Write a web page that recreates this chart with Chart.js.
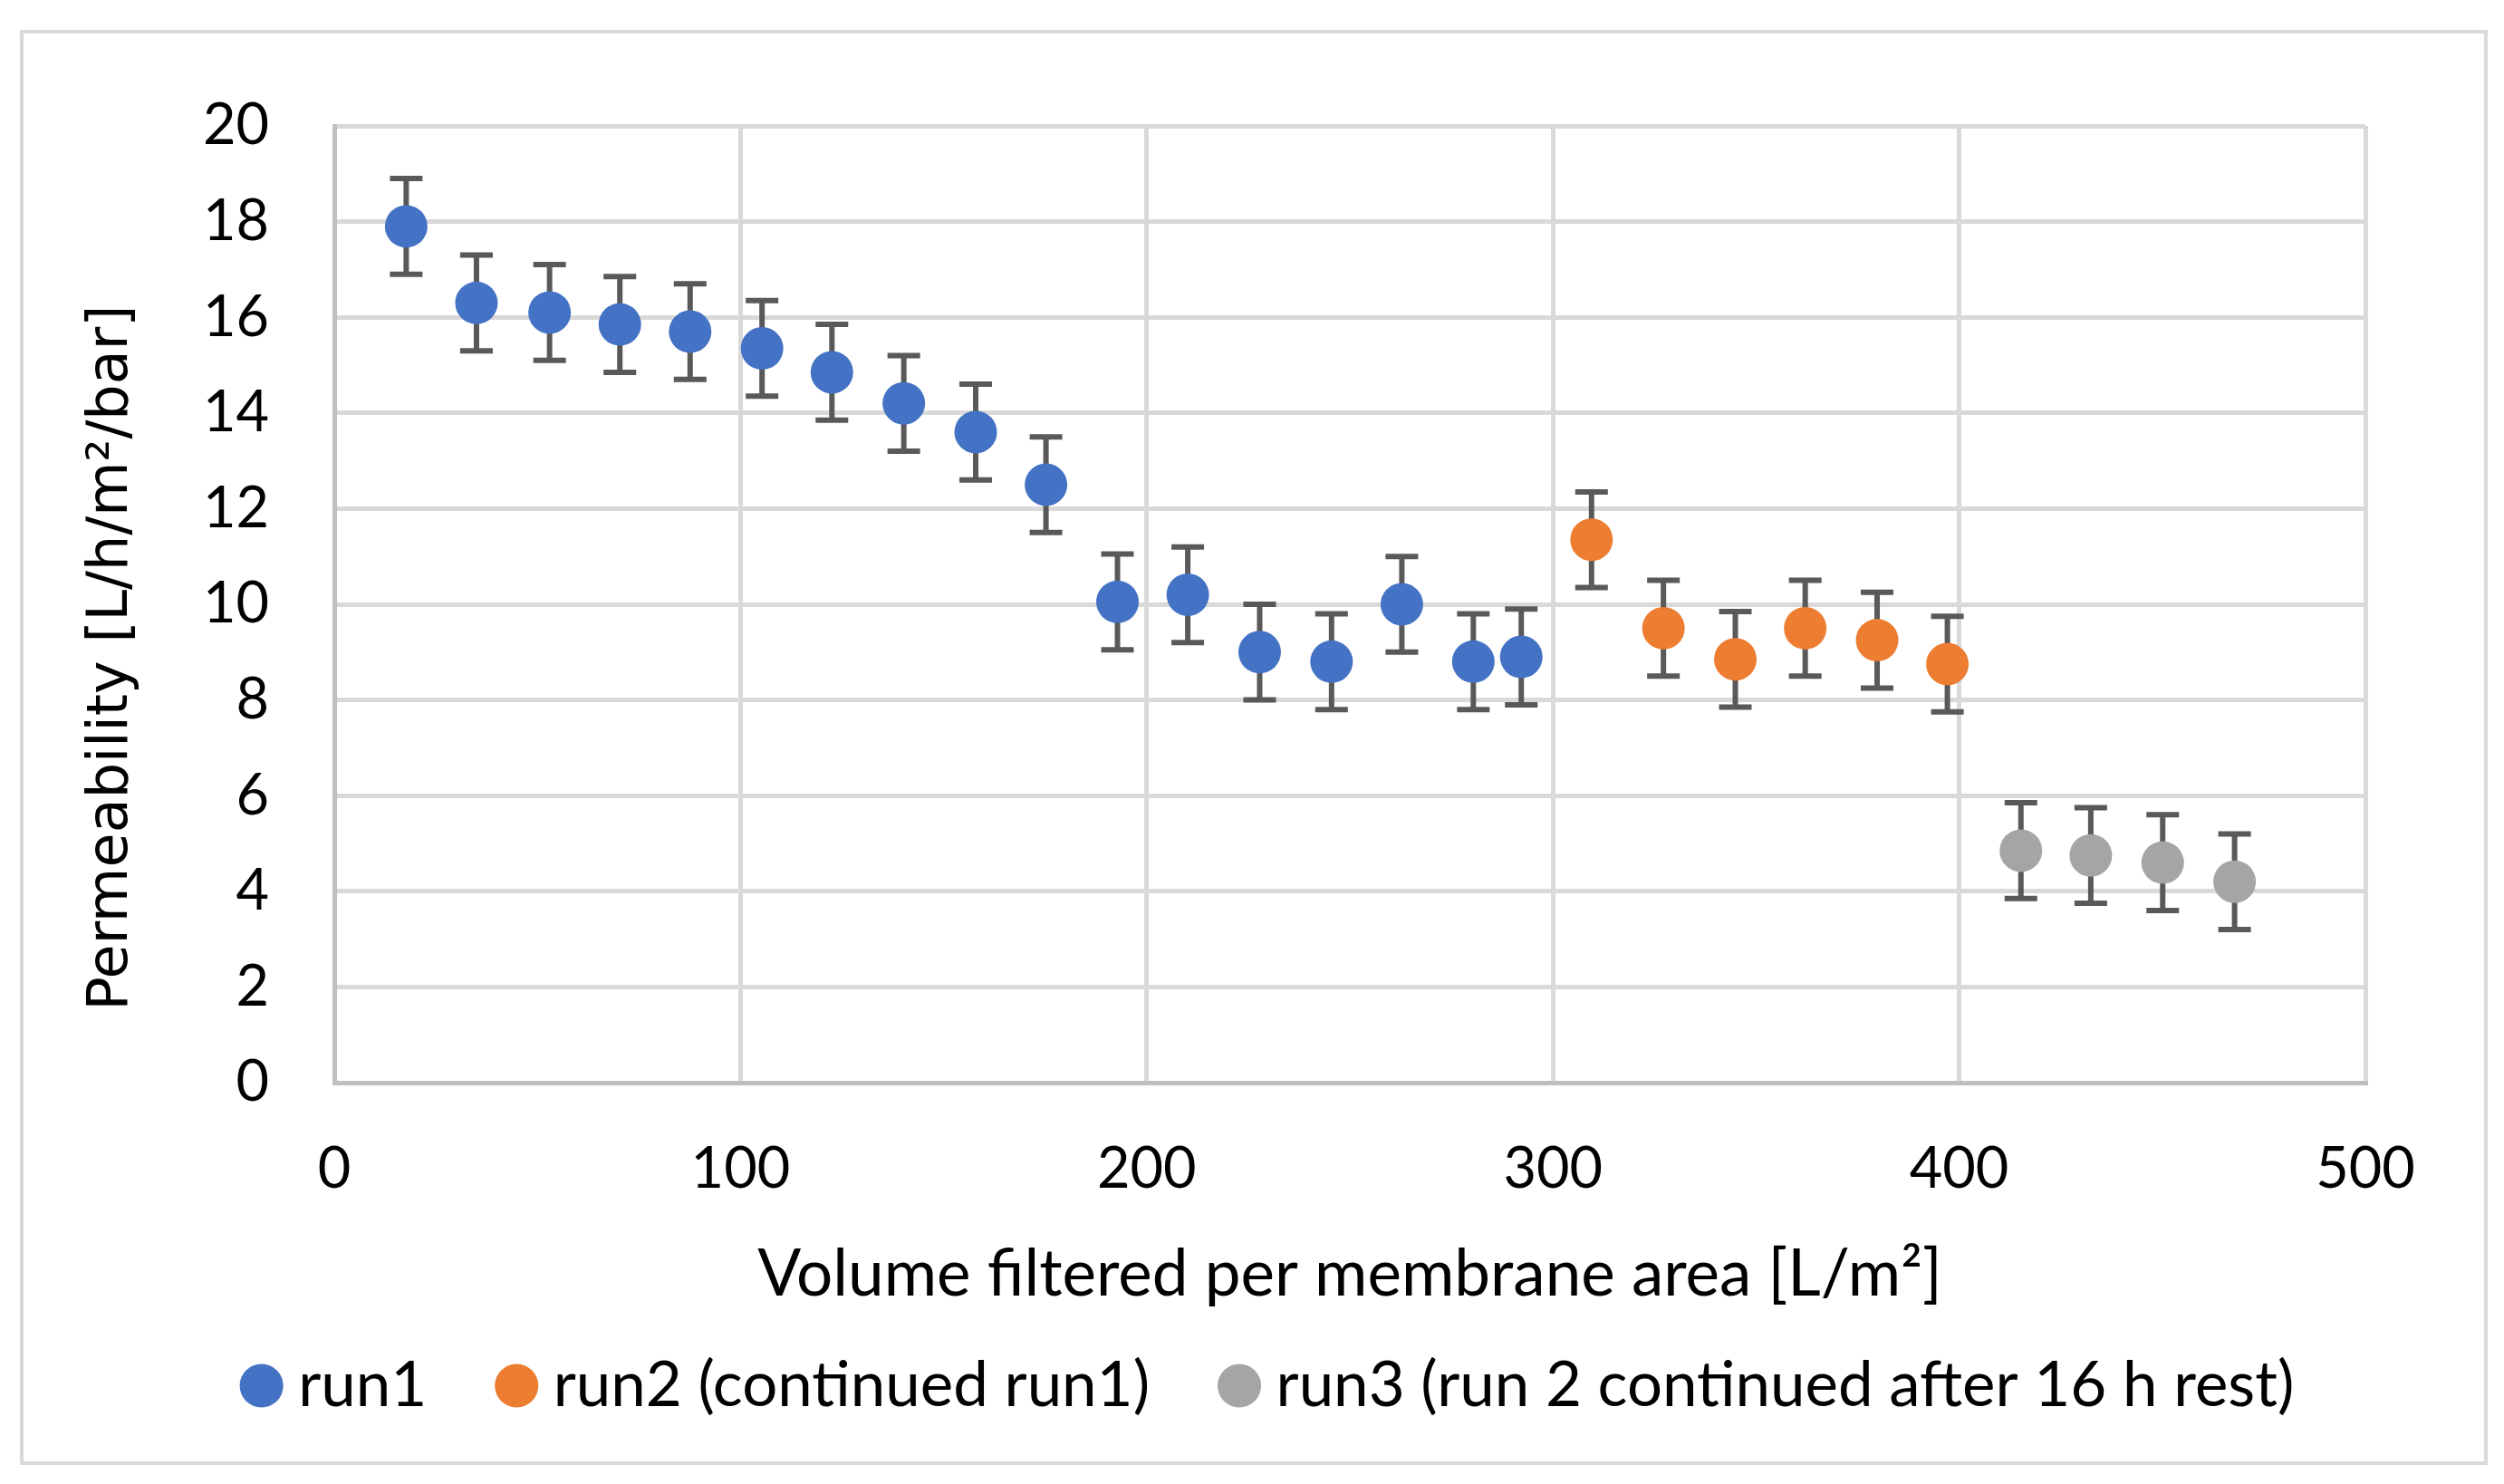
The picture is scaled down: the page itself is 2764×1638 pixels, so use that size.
<!DOCTYPE html>
<html>
<head>
<meta charset="utf-8">
<script src="https://cdn.jsdelivr.net/npm/chart.js@4.4.1/dist/chart.umd.min.js"></script>
<style>
  html, body { margin: 0; padding: 0; background: #fff; }
</style>
</head>
<body>
<canvas id="myChart" width="2764" height="1638" style="width:2764px;height:1638px;display:block"></canvas>
<script>
  // values
  const run1X = [17.7, 35.0, 53.0, 70.3, 87.6, 105.3, 122.5, 140.2, 157.9, 175.2, 192.8, 210.1, 227.8, 245.5, 262.8, 280.4, 292.2];
  const run1Y = [17.9, 16.3, 16.1, 15.85, 15.7, 15.35, 14.85, 14.2, 13.6, 12.5, 10.05, 10.2, 9.0, 8.8, 10.0, 8.8, 8.9];
  const run2X = [309.5, 327.2, 344.9, 362.1, 379.8, 397.1];
  const run2Y = [11.35, 9.5, 8.85, 9.5, 9.25, 8.75];
  const run3X = [415.2, 432.4, 450.1, 467.8];
  const run3Y = [4.85, 4.75, 4.6, 4.2];
  const errorSize = 1.0; // +/- error on every point
  const seriesNames = ['run1', 'run2 (continued run1)', 'run3 (run 2 continued after 16 h rest)'];
  const seriesColors = ['#4472C4', '#ED7D31', '#A5A5A5'];

  const toPoints = (xs, ys) => xs.map((x, i) => ({ x: x, y: ys[i] }));

  const ctx = document.getElementById('myChart').getContext('2d');

  const PAD_LEFT = 51;

  const frame = {
    id: 'frame',
    beforeDraw(chart) {
      const c = chart.ctx;
      c.save();
      c.fillStyle = '#fff';
      c.fillRect(0, 0, chart.width, chart.height);
      c.strokeStyle = '#D9D9D9';
      c.lineWidth = 4;
      c.strokeRect(24, 35, 2720, 1580);
      c.restore();
    }
  };

  const errorBars = {
    id: 'errorBars',
    beforeDatasetsDraw(chart) {
      const c = chart.ctx;
      const x = chart.scales.x, y = chart.scales.y;
      c.save();
      c.strokeStyle = '#595959';
      c.lineWidth = 6;
      chart.data.datasets.forEach(ds => {
        ds.data.forEach(p => {
          const px = x.getPixelForValue(p.x);
          const top = y.getPixelForValue(p.y + errorSize);
          const bot = y.getPixelForValue(p.y - errorSize);
          c.beginPath();
          c.moveTo(px, top); c.lineTo(px, bot);
          c.moveTo(px - 18, top); c.lineTo(px + 18, top);
          c.moveTo(px - 18, bot); c.lineTo(px + 18, bot);
          c.stroke();
        });
      });
      c.restore();
    }
  };

  const makeSet = (i, xs, ys) => ({
    label: seriesNames[i],
    data: toPoints(xs, ys),
    backgroundColor: seriesColors[i],
    borderColor: seriesColors[i],
    borderWidth: 0,
    pointRadius: 23.5,
    pointHoverRadius: 23.5,
    showLine: false
  });

  const myChart = new Chart(ctx, {
    type: 'scatter',
    data: {
      datasets: [
        makeSet(0, run1X, run1Y),
        makeSet(1, run2X, run2Y),
        makeSet(2, run3X, run3Y)
      ]
    },
    plugins: [frame, errorBars],
    options: {
      responsive: false,
      animation: false,
      devicePixelRatio: 1,
      layout: { padding: { left: PAD_LEFT, top: 139, right: 0, bottom: 64 } },
      plugins: {
        legend: {
          position: 'bottom',
          labels: {
            usePointStyle: true,
            pointStyle: 'circle',
            boxWidth: 12,
            boxHeight: 34,
            padding: 40,
            color: '#000',
            font: { family: 'Lato', size: 69 },
            generateLabels(chart) {
              const n = chart.data.datasets.length;
              return chart.data.datasets.map((ds, i) => ({
                text: ds.label + (i < n - 1 ? '   ' : ''),
                fillStyle: ds.backgroundColor,
                strokeStyle: ds.backgroundColor,
                lineWidth: 0,
                pointStyle: 'circle',
                hidden: false,
                datasetIndex: i
              }));
            }
          }
        },
        tooltip: { enabled: false }
      },
      scales: {
        x: {
          type: 'linear',
          min: 0,
          max: 500,
          ticks: { stepSize: 100, padding: 58, color: '#000', font: { family: 'Lato', size: 63 } },
          grid: { color: '#D9D9D9', lineWidth: 5, drawTicks: false },
          border: { color: '#BFBFBF', width: 5 },
          title: {
            display: true,
            text: 'Volume filtered per membrane area [L/m²]',
            color: '#000',
            font: { family: 'Lato', size: 71 },
            padding: { top: 0, bottom: 5 }
          },
          afterFit(scale) { scale.height = 260; }
        },
        y: {
          min: 0,
          max: 20,
          ticks: { stepSize: 2, padding: 72, color: '#000', font: { family: 'Lato', size: 63 } },
          grid: { color: '#D9D9D9', lineWidth: 5, drawTicks: false },
          border: { color: '#BFBFBF', width: 5 },
          title: {
            display: true,
            text: 'Permeability [L/h/m²/bar]      ',
            color: '#000',
            font: { family: 'DejaVu Sans', size: 62 },
            padding: { top: 36, bottom: 0 }
          },
          afterFit(scale) { scale.width = 369 - PAD_LEFT; }
        },
        y2: {
          position: 'right',
          display: true,
          grid: { display: false },
          border: { display: false },
          ticks: { display: false },
          afterFit(scale) { scale.width = 2764 - 2611; }
        }
      }
    }
  });
</script>
</body>
</html>
